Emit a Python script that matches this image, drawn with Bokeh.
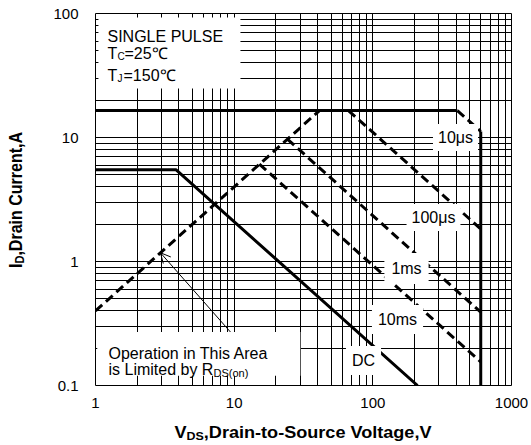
import math
from bokeh.plotting import figure
from bokeh.layouts import row, column
from bokeh.models import (Range1d, FixedTicker, CustomJSTickFormatter, Label,
                          BoxAnnotation, Arrow, OpenHead, Div)
from bokeh.embed import file_html
from bokeh.resources import INLINE

# ---------------- data ----------------
x_ticks = [1, 10, 100, 1000]
y_ticks = [0.1, 1, 10, 100]

# pulsed drain current limit (thick solid)
idm_v = [1, 407]
idm_i = [16.5, 16.5]
# R_DS(on) limit (dashed)
rds_v = [1, 41.25]
rds_i = [0.4, 16.5]
# V_DSS limit (thick solid vertical)
vdss_v = [600, 600]
vdss_i = [0.1, 11.2]
# DC curve (thick solid)
dc_v = [1, 3.8, 210]
dc_i = [5.5, 5.5, 0.1]
# single pulse curves (dashed)
pulse_names = ["10μs", "100μs", "1ms", "10ms"]
pulse_v_start = [407, 66.7, 24.2, 15.2]
pulse_i_start = [16.5, 16.5, 9.7, 6.1]
pulse_v_end = [600, 600, 600, 600]
pulse_i_end = [11.2, 1.83, 0.39, 0.155]

FONT = "Liberation Sans"
YW = 28      # width of the y-title strip
XH = 20      # height of the x-title strip

p = figure(width=528 - YW, height=443 - XH, x_axis_type="log", y_axis_type="log",
           x_range=Range1d(1, 1000), y_range=Range1d(0.1, 100),
           output_backend="svg", toolbar_location=None,
           min_border_left=95 - YW, min_border_right=17,
           min_border_top=13, min_border_bottom=(443 - XH) - 385)
p.background_fill_color = "white"
p.border_fill_color = "white"
p.outline_line_color = "black"
p.outline_line_width = 1

minor_x = [m * 10 ** k for k in range(0, 3) for m in range(2, 10)]
minor_y = [m * 10 ** k for k in range(-1, 2) for m in range(2, 10)]
p.xaxis.ticker = FixedTicker(ticks=x_ticks, minor_ticks=minor_x)
p.yaxis.ticker = FixedTicker(ticks=y_ticks, minor_ticks=minor_y)
fmt = CustomJSTickFormatter(code="return String(tick);")
for ax in (p.xaxis[0], p.yaxis[0]):
    ax.formatter = fmt
    ax.axis_line_color = None
    ax.major_tick_line_color = None
    ax.minor_tick_line_color = None
    ax.major_tick_out = 0
    ax.major_tick_in = 0
    ax.minor_tick_out = 0
    ax.minor_tick_in = 0
    ax.major_label_text_font = FONT
    ax.major_label_text_font_size = "15px"
    ax.major_label_text_color = "black"
p.yaxis.major_label_standoff = 17
p.xaxis.major_label_standoff = 12

for g in (p.xgrid[0], p.ygrid[0]):
    g.grid_line_color = "black"
    g.grid_line_width = 1
    g.minor_grid_line_color = "black"
    g.minor_grid_line_width = 1

# ---------------- curves ----------------
W = 3
p.line(idm_v, idm_i, line_color="black", line_width=W)
p.line(vdss_v, vdss_i, line_color="black", line_width=W)
p.line(dc_v, dc_i, line_color="black", line_width=W)
p.line(rds_v, rds_i, line_color="black", line_width=W, line_dash="9 5")
for vs, is_, ve, ie in zip(pulse_v_start, pulse_i_start, pulse_v_end, pulse_i_end):
    p.line([vs, ve], [is_, ie], line_color="black", line_width=W, line_dash="9 5")

# ---------------- white boxes behind the notes ----------------
p.add_layout(BoxAnnotation(left=1.05, right=11.1, bottom=24.8, top=92.8,
                           fill_color="white", fill_alpha=1, line_color=None))
p.add_layout(BoxAnnotation(left=1.03, right=30, bottom=0.12, top=0.27,
                           fill_color="white", fill_alpha=1, line_color=None))

FL, FB = 95, 385  # picture position of the frame's left and bottom edges


def txt(px, py, s, size=16, bold=False, align="left", baseline="alphabetic",
        angle=0.0, bg=False, pad=4):
    lab = Label(x=px - FL, y=FB - py, x_units="screen", y_units="screen",
                text=s, text_font=FONT, text_font_size=f"{size}px",
                text_font_style="bold" if bold else "normal",
                text_align=align, text_baseline=baseline, angle=angle,
                text_color="black")
    if bg:
        lab.background_fill_color = "white"
        lab.padding = pad
    p.add_layout(lab)


# curve labels
label_pos = [(455, 137), (433, 217), (406, 268), (397, 319)]
label_pad = [5, 5, 7, 6]
for name, (px, py), pd in zip(pulse_names, label_pos, label_pad):
    txt(px, py, name, align="center", baseline="middle", bg=True, pad=pd)
txt(363, 360, "DC", align="center", baseline="middle", bg=True, pad=6)

# top-left note
txt(107, 36, "SINGLE PULSE")
txt(107, 53, "T")
txt(117, 55.5, "C", size=10)
txt(124, 53, "=25℃")
txt(107, 75, "T")
txt(117, 77.5, "J", size=10)
txt(123, 75, "=150℃")

# operation-area note
txt(108, 353, "Operation in This Area")
txt(108, 369, "is Limited by R")
txt(213, 372, "DS(on)", size=11)

# arrow to the R_DS(on) line
arrow_v = 2.94
p.add_layout(Arrow(end=OpenHead(size=10, line_width=1, line_color="black"),
                   x_start=9.4, y_start=0.27,
                   x_end=arrow_v, y_end=arrow_v * rds_i[0] / rds_v[0],
                   line_color="black", line_width=1))

# ---------------- axis titles (HTML text with subscripts) ----------------
SUB = "font-size:11px;vertical-align:-2px;line-height:0;"
BASE = ("position:absolute;white-space:nowrap;font-family:'Liberation Sans';"
        "font-weight:bold;font-size:16px;line-height:16px;color:black;")
x_title = (f'<div style="position:relative;width:{528 - YW}px;height:{XH}px;">'
           f'<div style="{BASE}left:{303 - YW}px;top:9.5px;'
           f'transform:translate(-50%,-50%) scaleX(1.13);">'
           f'V<sub style="{SUB}">DS</sub>,Drain-to-Source Voltage,V</div></div>')
y_title = (f'<div style="position:relative;width:{YW}px;height:443px;">'
           f'<div style="{BASE}left:16px;top:200px;'
           f'transform:translate(-50%,-50%) rotate(-90deg) scaleY(1.1);">'
           f'I<sub style="{SUB}">D</sub>,Drain Current,A</div></div>')

xdiv = Div(text=x_title, width=528 - YW, height=XH, margin=0)
ydiv = Div(text=y_title, width=YW, height=443, margin=0)

layout = row(ydiv, column(p, xdiv, spacing=0), spacing=0)

open("out.html", "w").write(file_html(layout, INLINE))
